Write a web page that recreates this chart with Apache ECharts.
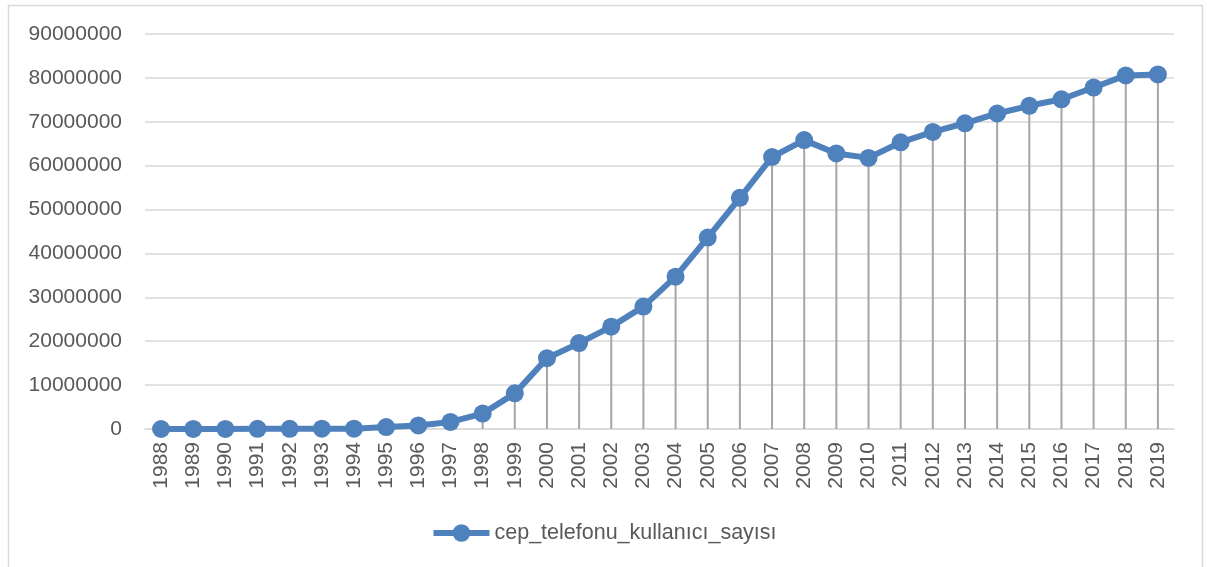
<!DOCTYPE html>
<html>
<head>
<meta charset="utf-8">
<script src="https://cdn.jsdelivr.net/npm/echarts@6/dist/echarts.min.js"></script>
<style>
html,body{margin:0;padding:0;background:#fff;}
#c{width:1207px;height:567px;}
</style>
</head>
<body>
<div id="c"></div>
<script>
const years = ['1988','1989','1990','1991','1992','1993','1994','1995','1996','1997','1998','1999','2000','2001','2002','2003','2004','2005','2006','2007','2008','2009','2010','2011','2012','2013','2014','2015','2016','2017','2018','2019'];
const users = [1000, 3000, 12000, 32000, 48000, 62000, 84000, 437000, 806000, 1610000, 3506000, 8122000, 16133000, 19573000, 23323000, 27888000, 34708000, 43609000, 52663000, 61976000, 65824000, 62780000, 61770000, 65322000, 67681000, 69661000, 71888000, 73639000, 75120000, 77800000, 80561000, 80791000];
const seriesName = 'cep_telefonu_kullanıcı_sayısı';
const yMin = 0, yMax = 90000000, yStep = 10000000;

const FONT = 'Liberation Sans';
const chart = echarts.init(document.getElementById('c'), null, {renderer:'canvas'});
chart.setOption({
  animation: false,
  backgroundColor: '#fff',
  textStyle: {fontFamily: FONT},
  graphic: [{
    type: 'rect', silent: true,
    shape: {x: 8.5, y: 5.5, width: 1194, height: 600},
    style: {fill: 'none', stroke: '#d9d9d9', lineWidth: 1.5}
  }],
  grid: {left: 145, right: 33, top: 34, bottom: 138, containLabel: false},
  legend: {
    data: [seriesName],
    bottom: 18, left: 'center',
    itemWidth: 56, itemHeight: 22, itemGap: 4,
    lineStyle: {width: 6},
    textStyle: {color: '#595959', fontSize: 21.5, fontFamily: FONT}
  },
  xAxis: {
    type: 'category', data: years, boundaryGap: true,
    axisLine: {show: true, lineStyle: {color: '#d9d9d9', width: 1.5}},
    axisTick: {show: false},
    axisLabel: {rotate: 90, color: '#595959', fontSize: 21, margin: 13, interval: 0}
  },
  yAxis: {
    type: 'value', min: yMin, max: yMax, interval: yStep,
    axisLine: {show: false}, axisTick: {show: false},
    axisLabel: {color: '#595959', fontSize: 21, margin: 23, formatter: v => String(v)},
    splitLine: {lineStyle: {color: '#d9d9d9', width: 1.5}}
  },
  series: [
    {
      name: 'drop', type: 'bar', data: users, barWidth: 2,
      itemStyle: {color: '#a6a6a6'}, z: 1, silent: true
    },
    {
      name: seriesName, type: 'line', data: users,
      symbol: 'circle', symbolSize: 18,
      lineStyle: {color: '#4f81bd', width: 6},
      itemStyle: {color: '#4f81bd'},
      z: 3
    }
  ]
});
</script>
</body>
</html>
